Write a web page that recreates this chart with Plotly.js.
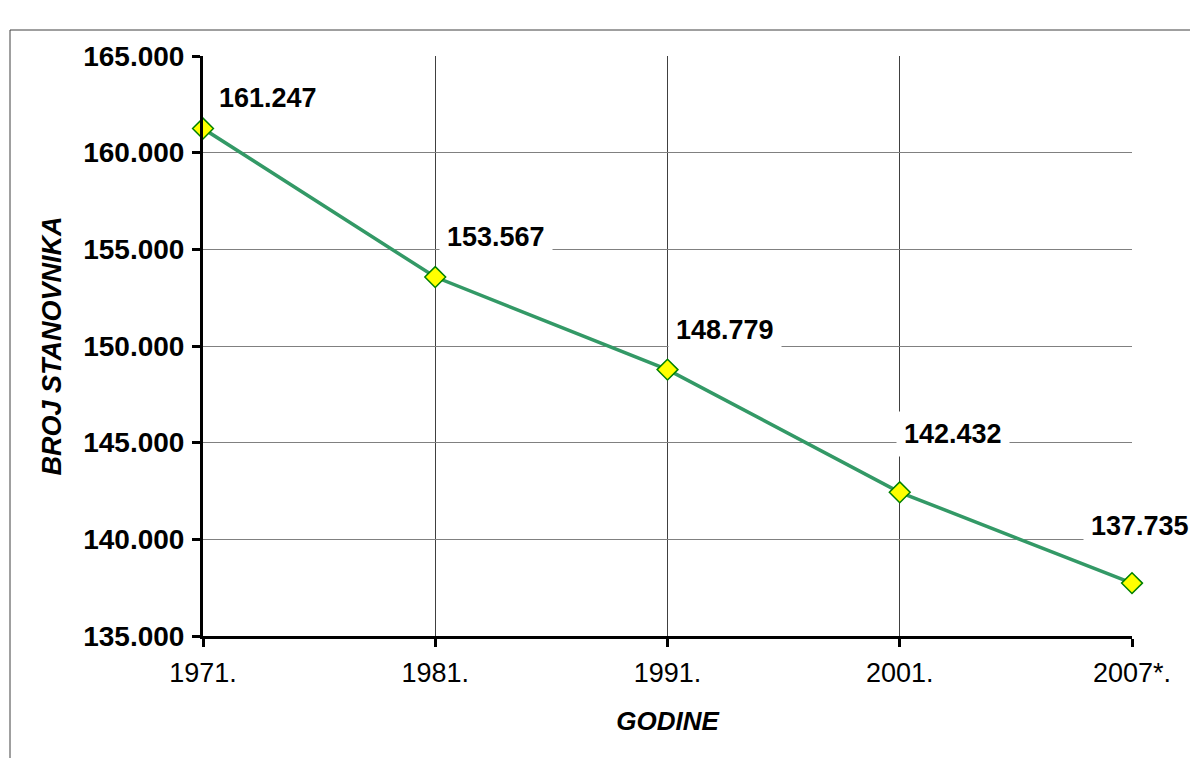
<!DOCTYPE html>
<html>
<head>
<meta charset="utf-8">
<script src="https://cdn.plot.ly/plotly-3.0.1.min.js"></script>
<style>
  html, body { margin: 0; padding: 0; background: #fff; }
  #chart { width: 1190px; height: 758px; }
</style>
</head>
<body>
<div id="chart"></div>
<script>
// ---- data ----
const years = ['1971.', '1981.', '1991.', '2001.', '2007*.'];
const population = [161247, 153567, 148779, 142432, 137735];
const yTitle = 'BROJ STANOVNIKA';
const xTitle = 'GODINE';

// ---- helpers ----
function fmt(v) {
  return String(v).replace(/\B(?=(\d{3})+(?!\d))/g, '.');
}

const FONT = 'Liberation Sans, Arial, sans-serif';

// label offsets (pixels) relative to each point
const labelShift = [[65, 31], [61, 40], [57, 40], [53, 58], [8, 57]];

const trace = {
  type: 'scatter',
  mode: 'lines+markers',
  x: years,
  y: population,
  cliponaxis: false,
  line: { color: '#339966', width: 3.5 },
  marker: {
    symbol: 'diamond',
    size: 16,
    color: '#FFFF00',
    line: { color: '#008000', width: 1.5 }
  },
  hoverinfo: 'skip'
};

// category index is used for annotation x (names like "1971." look numeric)
const annotations = population.map((v, i) => ({
  x: years.indexOf(years[i]),
  y: v,
  xref: 'x',
  yref: 'y',
  text: fmt(v),
  showarrow: false,
  xanchor: 'center',
  yanchor: 'middle',
  xshift: labelShift[i][0],
  yshift: labelShift[i][1],
  bgcolor: '#ffffff',
  borderpad: 7,
  font: { family: FONT, size: 27, color: '#000', weight: 'bold' }
}));

const L = 203, R = 58, T = 56, B = 122;
const W = 1190 - L - R, H = 758 - T - B;
const px = (p) => (p - L) / W;
const py = (p) => (758 - B - p) / H;

const layout = {
  width: 1190,
  height: 758,
  margin: { l: L, r: R, t: T, b: B, pad: 0 },
  paper_bgcolor: '#ffffff',
  plot_bgcolor: '#ffffff',
  separators: ',.',
  showlegend: false,
  font: { family: FONT, color: '#000' },
  xaxis: {
    type: 'category',
    range: [0, years.length - 1],
    showline: true,
    linecolor: '#000',
    linewidth: 3,
    showgrid: true,
    gridcolor: '#404040',
    gridwidth: 1,
    ticks: 'outside',
    ticklen: 8,
    tickwidth: 3,
    tickcolor: '#000',
    tickfont: { family: FONT, size: 27, color: '#000' },
    ticklabelstandoff: 3,
    zeroline: false,
    fixedrange: true,
    title: {
      text: xTitle,
      font: { family: FONT, size: 26, color: '#000', weight: 'bold', style: 'italic' },
      standoff: 25
    }
  },
  yaxis: {
    range: [135000, 165000],
    dtick: 5000,
    tick0: 135000,
    tickformat: ',d',
    showline: true,
    linecolor: '#000',
    linewidth: 3,
    showgrid: true,
    gridcolor: '#808080',
    gridwidth: 1,
    ticks: 'outside',
    ticklen: 8,
    tickwidth: 3,
    tickcolor: '#000',
    tickfont: { family: FONT, size: 28, color: '#000', weight: 'bold' },
    ticklabelstandoff: 2,
    zeroline: false,
    fixedrange: true,
    title: {
      text: yTitle,
      font: { family: FONT, size: 27, color: '#000', weight: 'bold', style: 'italic' },
      standoff: 14
    }
  },
  annotations: annotations,
  shapes: [
    {
      type: 'rect',
      xref: 'paper', yref: 'paper',
      x0: px(10), x1: px(1300),
      y0: py(900), y1: py(30),
      line: { color: '#404040', width: 1 },
      fillcolor: 'rgba(0,0,0,0)',
      layer: 'below'
    }
  ]
};

Plotly.newPlot('chart', [trace], layout, { staticPlot: true, displayModeBar: false });
</script>
</body>
</html>
